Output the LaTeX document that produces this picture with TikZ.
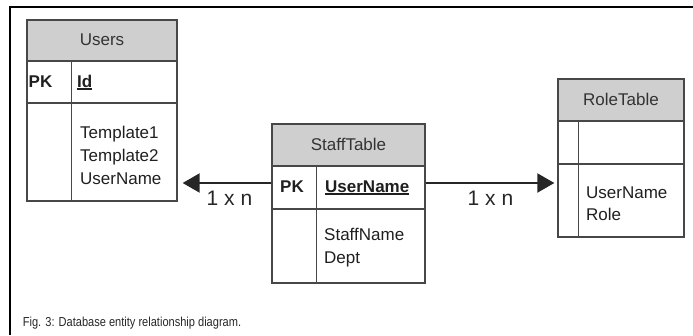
\documentclass[tikz,border=0pt]{standalone}
\usepackage{fontspec}
\setmainfont{Liberation Sans}
\usetikzlibrary{arrows.meta,calc}

% underline drawn as a thick rule just below the baseline
\newcommand{\keyul}[1]{\setbox0\hbox{#1}\rlap{\rule[-2.6pt]{\wd0}{1.6pt}}\box0}

\begin{document}
\begin{tikzpicture}[x=1pt,y=-1pt,
  part/.style={draw=black!72, line width=1.3pt, rectangle, inner sep=0pt},
  head/.style={part, fill=black!19},
  field/.style={font=\fontsize{17}{20}\selectfont, text=black!88, inner sep=0pt, anchor=base west},
  title/.style={font=\fontsize{17}{20}\selectfont, text=black!80, inner sep=0pt, anchor=base},
  pk/.style={field, font=\fontsize{17}{20}\selectfont\bfseries},
  link/.style={draw=black!85, line width=2pt, -{Triangle[length=17pt,width=19pt]}},
  card/.style={font=\fontsize{21}{24}\selectfont, text=black!85, inner sep=0pt, anchor=base}]

\useasboundingbox (0,0) rectangle (693,335);

% outer frame (top and left edges only)
\draw[line width=2pt] (693,7.3) -- (10.3,7.3) -- (10.3,335);

% ---- Users ----
\node[head, minimum width=150pt, minimum height=41pt] (users-h) at (102,40.5) {};
\node[part, minimum width=150pt, minimum height=42pt] (users-pk) at (102,82) {};
\node[part, minimum width=150pt, minimum height=98pt] (users-b) at (102,152) {};
\draw[draw=black!72, line width=1.3pt] ($(users-pk.north west)+(45,0)$) -- ($(users-b.south west)+(45,0)$);
\node[title] (users-t) at (102,45.7) {Users};
\node[pk] (users-pkl) at (28.5,87) {PK};
\node[pk] (users-id) at (77,87) {\keyul{Id}};
\node[field] (users-f1) at (80,138) {Template1};
\node[field] (users-f2) at (80,161) {Template2};
\node[field] (users-f3) at (80,184) {UserName};

% ---- StaffTable ----
\node[head, minimum width=153pt, minimum height=42pt] (staff-h) at (348.5,145) {};
\node[part, minimum width=153pt, minimum height=43pt] (staff-pk) at (348.5,187.5) {};
\node[part, minimum width=153pt, minimum height=74pt] (staff-b) at (348.5,246) {};
\draw[draw=black!72, line width=1.3pt] ($(staff-pk.north west)+(45,0)$) -- ($(staff-b.south west)+(45,0)$);
\node[title] (staff-t) at (348.5,150.7) {StaffTable};
\node[pk] (staff-pkl) at (280,192) {PK};
\node[pk] (staff-id) at (325,192) {\keyul{UserName}};
\node[field] (staff-f1) at (324,240.5) {StaffName};
\node[field] (staff-f2) at (324,263.5) {Dept};

% ---- RoleTable ----
\node[head, minimum width=126pt, minimum height=42pt] (role-h) at (621,100) {};
\node[part, minimum width=126pt, minimum height=43pt] (role-pk) at (621,142.5) {};
\node[part, minimum width=126pt, minimum height=73pt] (role-b) at (621,200.5) {};
\draw[draw=black!72, line width=1.3pt] ($(role-pk.north west)+(21,0)$) -- ($(role-b.south west)+(21,0)$);
\node[title] (role-t) at (621,105) {RoleTable};
\node[field] (role-f1) at (586,198.3) {UserName};
\node[field] (role-f2) at (586,220.3) {Role};

% ---- relationships ----
\coordinate (l-start) at ($(staff-pk.west)+(0,-4.5)$);
\coordinate (l-end) at ($(users-b.east |- l-start)+(5,0)$);
\draw[link] (l-start) -- (l-end);
\node[card] (l-card) at (229.5,205) {1 x n};

\coordinate (r-start) at ($(staff-pk.east)+(0,-4.5)$);
\coordinate (r-end) at ($(role-b.west |- r-start)+(-3,0)$);
\draw[link] (r-start) -- (r-end);
\node[card] (r-card) at (490.5,205) {1 x n};

% caption
\node[inner sep=0pt, anchor=base west, text=black!85] (caption) at (22.7,326)
  {\scalebox{0.85}[1]{\fontsize{13}{15}\selectfont Fig. 3: Database entity relationship diagram.}};
\end{tikzpicture}
\end{document}
